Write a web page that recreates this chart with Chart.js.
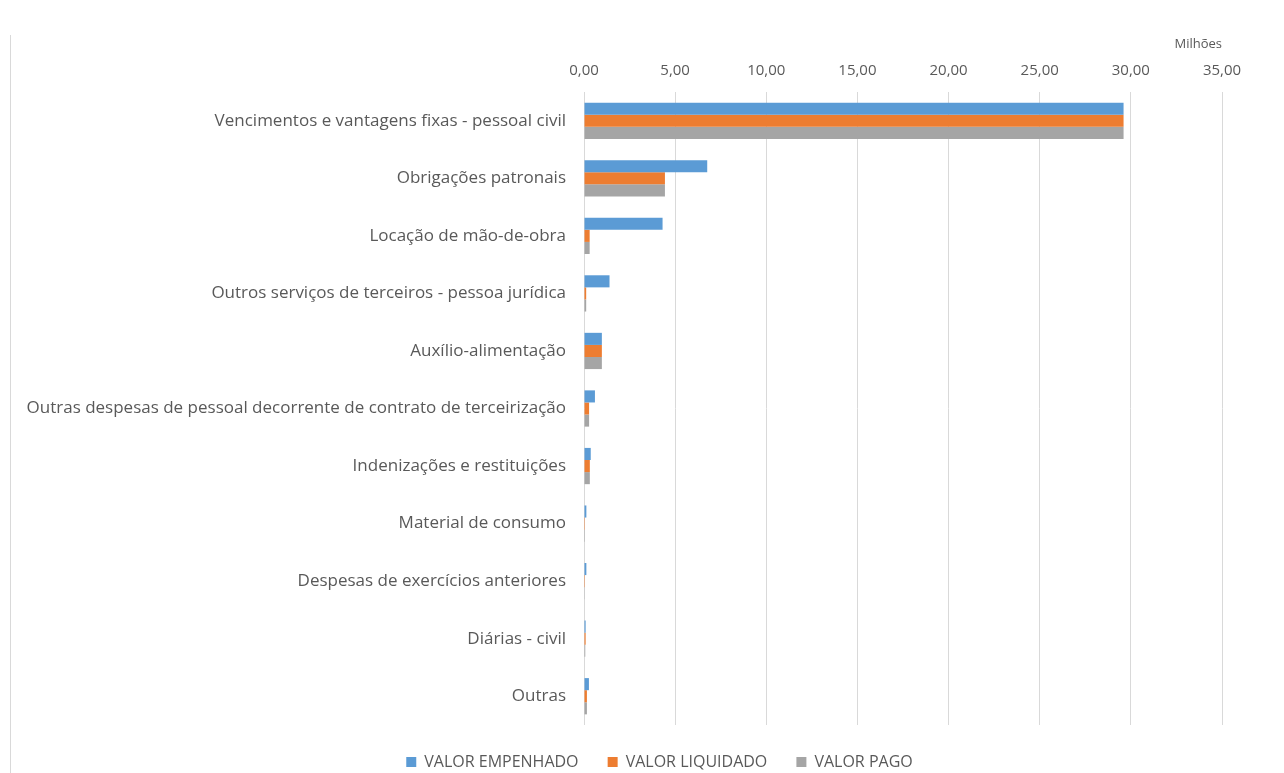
<!DOCTYPE html>
<html>
<head>
<meta charset="utf-8">
<script src="https://cdn.jsdelivr.net/npm/chart.js@4/dist/chart.umd.min.js"></script>
<style>
  html, body { margin: 0; padding: 0; background: #fff; }
  #wrap { position: relative; width: 1284px; height: 773px; overflow: hidden; }
  #frame { position: absolute; left: 10px; top: 35px; bottom: 0; border-left: 1px solid #d9d9d9; }
  canvas { display: block; }
</style>
</head>
<body>
<div id="wrap">
  <div id="frame"></div>
  <!-- a bit taller than the window: the legend's empty 10px strip falls below the edge -->
  <canvas id="chart" width="1284" height="780"></canvas>
</div>
<script>
const categories = [
  "Vencimentos e vantagens fixas - pessoal civil",
  "Obrigações patronais",
  "Locação de mão-de-obra",
  "Outros serviços de terceiros - pessoa jurídica",
  "Auxílio-alimentação",
  "Outras despesas de pessoal decorrente de contrato de terceirização",
  "Indenizações e restituições",
  "Material de consumo",
  "Despesas de exercícios anteriores",
  "Diárias - civil",
  "Outras"
];

// values in millions
const empenhado = [29.6, 6.76, 4.31, 1.40, 0.98, 0.60, 0.37, 0.13, 0.13, 0.09, 0.27];
const liquidado = [29.6, 4.44, 0.31, 0.12, 0.98, 0.28, 0.32, 0.05, 0.05, 0.09, 0.16];
const pago      = [29.6, 4.44, 0.31, 0.12, 0.98, 0.28, 0.32, 0.05, 0.04, 0.07, 0.16];

const xTicks = [0, 5, 10, 15, 20, 25, 30, 35];

const BLUE = "#5b9bd5";
const ORANGE = "#ed7d31";
const GRAY = "#a5a5a5";
const TEXT = "#595959";
const FONT = "'Open Sans', 'Noto Sans', sans-serif";

const ctx = document.getElementById("chart").getContext("2d");

const chart = new Chart(ctx, {
  type: "bar",
  data: {
    labels: categories,
    datasets: [
      { label: "VALOR EMPENHADO", data: empenhado, backgroundColor: BLUE },
      { label: "VALOR LIQUIDADO", data: liquidado, backgroundColor: ORANGE },
      { label: "VALOR PAGO", data: pago, backgroundColor: GRAY }
    ]
  },
  options: {
    indexAxis: "y",
    responsive: false,
    animation: false,
    categoryPercentage: 0.63,
    barPercentage: 1.0,
    layout: { padding: { left: 0, right: 62, top: 36, bottom: 0 } },
    plugins: {
      legend: {
        position: "bottom",
        labels: {
          color: TEXT,
          font: { family: FONT, size: 16 },
          boxWidth: 10,
          boxHeight: 10,
          padding: 0,
          generateLabels: (c) => {
            const items = Chart.defaults.plugins.legend.labels.generateLabels(c);
            // trailing spaces widen the gap between items
            items.forEach((it, i) => { if (i < items.length - 1) it.text += "       "; });
            // invisible leading item nudges the centred legend to the right
            items.unshift({
              text: " ".repeat(19),
              fillStyle: "rgba(0,0,0,0)",
              strokeStyle: "rgba(0,0,0,0)",
              lineWidth: 0,
              hidden: false,
              datasetIndex: -1
            });
            return items;
          }
        },
        onClick: () => {}
      },
      tooltip: { enabled: false }
    },
    scales: {
      x: {
        position: "top",
        min: 0,
        max: 35,
        afterBuildTicks: (axis) => { axis.ticks = xTicks.map(v => ({ value: v })); },
        afterFit: (axis) => { axis.height = 56; },
        grid: { color: "#d9d9d9", lineWidth: 1, drawTicks: false },
        border: { display: false },
        ticks: {
          color: TEXT,
          padding: 12,
          font: { family: FONT, size: 15 },
          callback: (v) => Number(v).toFixed(2).replace(".", ",")
        },
        title: {
          display: true,
          text: "Milhões",
          align: "end",
          color: TEXT,
          font: { family: FONT, size: 13 },
          padding: { top: 0, bottom: 2 }
        }
      },
      // empty spacer axis: keeps a gap between the plot and the legend
      gap: {
        type: "linear",
        axis: "x",
        position: "bottom",
        afterFit: (axis) => { axis.height = 29; },
        grid: { display: false },
        border: { display: false },
        ticks: { display: false }
      },
      y: {
        afterFit: (axis) => { axis.width = 584; },
        grid: { display: false },
        border: { display: false },
        ticks: {
          color: TEXT,
          padding: 10,
          font: { family: FONT, size: 17 }
        }
      }
    }
  }
});
</script>
</body>
</html>
